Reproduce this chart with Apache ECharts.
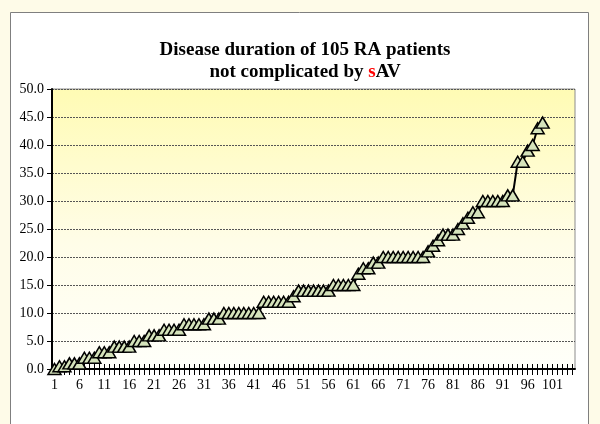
<!DOCTYPE html>
<html>
<head>
<meta charset="utf-8">
<script src="https://cdn.jsdelivr.net/npm/echarts@6/dist/echarts.min.js"></script>
<style>
  html, body { margin: 0; padding: 0; background: #fefbe8; }
  #mainBox { width: 600px; height: 424px; }
</style>
</head>
<body>
<div id="mainBox"></div>
<script>
// 105 patients on the axis
var patients = [];
for (var i = 1; i <= 105; i++) patients.push(String(i));

var duration = [
  0, 0.5, 0.5, 1, 1, 1, 2, 2, 2, 3,
  3, 3, 4, 4, 4, 4, 5, 5, 5, 6,
  6, 6, 7, 7, 7, 7, 8, 8, 8, 8,
  8, 9, 9, 9, 10, 10, 10, 10, 10, 10,
  10, 10, 12, 12, 12, 12, 12, 12, 13, 14,
  14, 14, 14, 14, 14, 14, 15, 15, 15, 15,
  15, 17, 18, 18, 19, 19, 20, 20, 20, 20,
  20, 20, 20, 20, 20, 21, 22, 23, 24, 24,
  24, 25, 26, 27, 28, 28, 30, 30, 30, 30,
  30, 31, 31, 37, 37, 39, 40, 43, 44
];

var yMin = 0, yMax = 50, yStep = 5;

var myChart = echarts.init(document.getElementById('mainBox'));

var option = {
  backgroundColor: '#fefbe8',
  animation: false,
  graphic: [{
    type: 'rect',
    shape: { x: 10.5, y: 12.5, width: 578, height: 420 },
    style: { fill: '#ffffff', stroke: '#7f7f7f', lineWidth: 1 },
    z: -10
  }],
  title: {
    text: 'Disease duration of 105 RA patients\nnot complicated by {r|s}AV',
    left: 300,
    textAlign: 'center',
    top: 34,
    textStyle: {
      fontFamily: 'Liberation Serif',
      fontWeight: 'bold',
      fontSize: 19,
      color: '#000',
      lineHeight: 22,
      rich: {
        r: { color: '#ff0000', fontFamily: 'Liberation Serif', fontWeight: 'bold', fontSize: 19 }
      }
    }
  },
  grid: {
    left: 52,
    right: 25,
    top: 89,
    bottom: 55,
    show: true,
    borderColor: '#8c8c8c',
    borderWidth: 1,
    backgroundColor: new echarts.graphic.LinearGradient(0, 0, 0, 1, [
      { offset: 0, color: '#fffbb4' },
      { offset: 0.55, color: '#fffde8' },
      { offset: 1, color: '#fffffa' }
    ])
  },
  xAxis: [{
    type: 'category',
    data: patients,
    boundaryGap: true,
    axisLine: { lineStyle: { color: '#000', width: 2 } },
    axisTick: { show: true, interval: 0, alignWithLabel: true, length: 6, lineStyle: { color: '#000', width: 1 } },
    axisLabel: {
      interval: 4,
      color: '#000',
      fontFamily: 'Liberation Serif',
      fontSize: 14,
      margin: 9
    },
    splitLine: { show: false }
  }, {
    type: 'category',
    data: patients,
    position: 'bottom',
    offset: 0,
    boundaryGap: true,
    axisLine: { show: false },
    axisTick: { show: true, interval: 0, alignWithLabel: true, inside: true, length: 5, lineStyle: { color: '#000', width: 1 } },
    axisLabel: { show: false },
    splitLine: { show: false }
  }],
  yAxis: {
    type: 'value',
    min: yMin,
    max: yMax,
    interval: yStep,
    axisLine: { show: true, lineStyle: { color: '#000', width: 2 } },
    axisTick: { show: true, length: 5, lineStyle: { color: '#000' } },
    axisLabel: {
      color: '#000',
      fontFamily: 'Liberation Serif',
      fontSize: 14,
      margin: 8,
      formatter: function (v) { return v.toFixed(1); }
    },
    splitLine: { lineStyle: { color: '#555', type: [2, 1], width: 1 } }
  },
  series: [{
    name: 'duration',
    type: 'line',
    data: duration,
    showAllSymbol: true,
    symbol: 'triangle',
    symbolSize: [13, 11],
    lineStyle: { color: '#000', width: 2 },
    itemStyle: { color: '#d5e3bb', borderColor: '#000', borderWidth: 1.5 }
  }]
};

myChart.setOption(option);
</script>
</body>
</html>
